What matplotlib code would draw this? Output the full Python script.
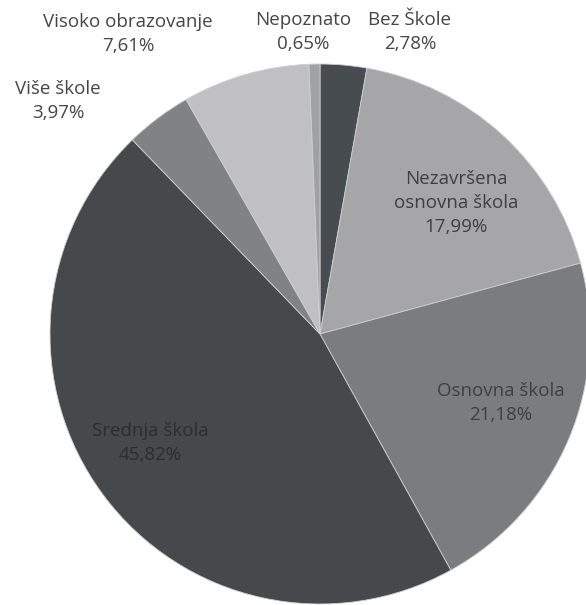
import matplotlib.pyplot as plt

# Struktura stanovništva po obrazovanju
categories = ['Bez Škole', 'Nezavršena\nosnovna škola', 'Osnovna škola', 'Srednja škola',
              'Više škole', 'Visoko obrazovanje', 'Nepoznato']
shares = [2.78, 17.99, 21.18, 45.82, 3.97, 7.61, 0.65]
colors = ['#464c4f', '#a6a6a9', '#7a7c7f', '#45494b', '#808284', '#c0c0c2', '#9fa1a2']
text_colors = ['#454545', '#3f3f3f', '#3f3f3f', '#2b2e30', '#454545', '#454545', '#454545']

W, H = 586, 605
fig = plt.figure(figsize=(W / 100, H / 100), dpi=100)
ax = fig.add_axes([0, 0, 1, 1])

cx, cy, r = 320, H - 334, 270
ax.pie(shares, colors=colors, startangle=90, counterclock=False,
       center=(cx, cy), radius=r, frame=True,
       wedgeprops=dict(edgecolor='#cfcfcf', linewidth=0.6))
ax.set_xlim(0, W)
ax.set_ylim(0, H)
ax.set_aspect('equal')
ax.axis('off')

fmt = lambda v: f"{v:.2f}%".replace('.', ',')
font = dict(family=['Open Sans', 'DejaVu Sans'], fontsize=13.5,
            ha='center', va='center', linespacing=1.45)

# položaji oznaka (u pikselima slike)
label_pos = [(410, 32), (456, 203), (501, 403), (150, 443), (58, 101), (128, 34), (303, 32)]
for name, v, (x, y), tc in zip(categories, shares, label_pos, text_colors):
    ax.text(x, H - y, f"{name}\n{fmt(v)}", color=tc, **font)

fig.savefig('out.png', dpi=100)
